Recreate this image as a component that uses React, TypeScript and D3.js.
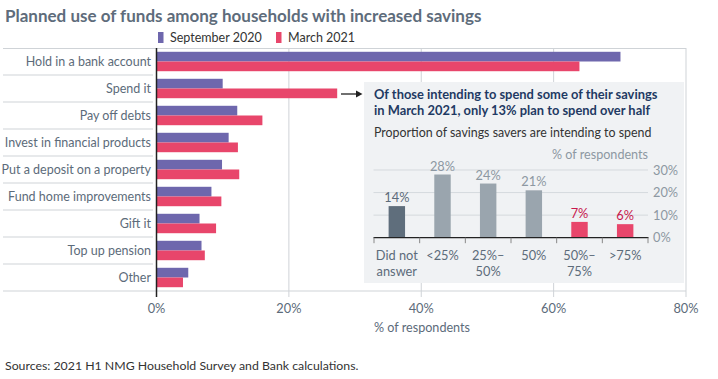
import React from "react";
import * as d3 from "d3";

const categories = [
  "Hold in a bank account",
  "Spend it",
  "Pay off debts",
  "Invest in financial products",
  "Put a deposit on a property",
  "Fund home improvements",
  "Gift it",
  "Top up pension",
  "Other",
];
const seriesNames = ["September 2020", "March 2021"];
const sep2020 = [70.1, 10.0, 12.2, 10.9, 9.9, 8.3, 6.5, 6.8, 4.8];
const mar2021 = [63.9, 27.3, 16.0, 12.3, 12.5, 9.8, 9.0, 7.3, 4.0];
const xTicks = [0, 20, 40, 60, 80];

const insetCats = [["Did not", "answer"], ["<25%"], ["25%–", "50%"], ["50%"], ["50%–", "75%"], [">75%"]];
const insetValues = [14, 28, 24, 21, 7, 6];
const insetTicks = [0, 10, 20, 30];

const PURPLE = "#6e67ad";
const RED = "#e8466b";
const FONT = "Lato, 'Noto Sans', sans-serif";
const TXT = "#5c6b7a";

export default function App() {
  const W = 718, H = 379;
  const x = d3.scaleLinear().domain([0, 80]).range([156.5, 686]);
  const y = d3.scaleBand<string>().domain(categories).range([48, 291]).padding(0);
  const inner = d3.scaleBand<string>().domain(seriesNames).range([0, y.bandwidth()]).paddingOuter(0.39).paddingInner(0);
  const series = [sep2020, mar2021];
  const colors = [PURPLE, RED];

  // inset
  const ix = d3.scaleBand<number>().domain(insetValues.map((_, i) => i)).range([374, 648]).paddingInner(0.64).paddingOuter(0.32);
  const iy = d3.scaleLinear().domain([0, 30]).range([237.7, 170]);
  const bandEdges = d3.range(insetValues.length + 1).map((i) => 374 + (i * (648 - 374)) / insetValues.length);
  const insetColor = (i: number) => (i === 0 ? "#5f6e7c" : insetValues[i] < 10 ? RED : "#9aa5ae");
  const insetLabelColor = (i: number) => (i === 0 ? "#5c6b7a" : insetValues[i] < 10 ? "#c8174d" : "#8d98a2");

  return (
    <svg width={W} height={H} style={{ display: "block", position: "absolute", left: 0, top: 0 }} fontFamily={FONT}>
      <rect width={W} height={H} fill="#fff" />
      <text x={5} y={21.5} fontSize={17} fontWeight={700} fill="#5e6c7b">
        Planned use of funds among households with increased savings
      </text>
      {/* legend */}
      {seriesNames.map((s, i) => {
        const lx = i === 0 ? 158 : 276;
        return (
          <g key={s}>
            <rect x={lx} y={32} width={5.5} height={11} fill={colors[i]} />
            <text x={lx + 12} y={41.5} fontSize={12.5} fill="#333">{s}</text>
          </g>
        );
      })}
      {/* grid */}
      {xTicks.slice(1).map((t) => (
        <line key={t} x1={x(t)} x2={x(t)} y1={48} y2={297} stroke="#cfd3d7" strokeWidth={1} />
      ))}
      <line x1={3} x2={686} y1={48.5} y2={48.5} stroke="#cfd3d7" />
      <line x1={3} x2={686} y1={291} y2={291} stroke="#cfd3d7" />
      {categories.slice(1).map((c) => (
        <line key={c} x1={3} x2={153} y1={y(c)!} y2={y(c)!} stroke="#cfd3d7" />
      ))}
      {/* bars */}
      {categories.map((c, ci) => (
        <g key={c}>
          {series.map((vals, si) => (
            <rect key={si} x={x(0)} y={y(c)! + inner(seriesNames[si])!} width={x(vals[ci]) - x(0)} height={inner.bandwidth()} fill={colors[si]} />
          ))}
          <text x={151} y={y(c)! + y.bandwidth() / 2 + 4.5} textAnchor="end" fontSize={12.5} fill={TXT}>{c}</text>
        </g>
      ))}
      <line x1={x(0)} x2={x(0)} y1={48} y2={297} stroke="#222" strokeWidth={1.5} />
      {xTicks.map((t) => (
        <text key={t} x={x(t)} y={312.5} textAnchor="middle" fontSize={12.8} fill={TXT}>{t}%</text>
      ))}
      <text x={374} y={332} fontSize={12.6} fill={TXT}>% of respondents</text>
      <text x={5} y={370} fontSize={12.3} fill="#333">Sources: 2021 H1 NMG Household Survey and Bank calculations.</text>

      {/* arrow */}
      <line x1={341} x2={357} y1={94} y2={94} stroke="#222" strokeWidth={1.3} />
      <path d="M356,90.5 L362.5,94 L356,97.5 Z" fill="#222" />

      {/* inset */}
      <rect x={364} y={82} width={320} height={201} fill="#f0f2f4" />
      <text x={374} y={98.5} fontSize={12.9} fontWeight={700} fill="#1f3a63">Of those intending to spend some of their savings</text>
      <text x={374} y={115} fontSize={12.9} fontWeight={700} fill="#1f3a63">in March 2021, only 13% plan to spend over half</text>
      <text x={374} y={136.5} fontSize={12.4} fill="#333">Proportion of savings savers are intending to spend</text>
      <text x={648} y={158.5} textAnchor="end" fontSize={12.6} fill="#8d98a2">% of respondents</text>
      {insetTicks.map((t) => (
        <g key={t}>
          {t > 0 && <line x1={373.5} x2={648} y1={iy(t)} y2={iy(t)} stroke="#d5d9dd" />}
          <text x={653} y={iy(t) + 4.5} fontSize={12.8} fill="#8d98a2">{t}%</text>
        </g>
      ))}
      {insetValues.map((v, i) => (
        <g key={i}>
          <rect x={ix(i)!} y={iy(v)} width={ix.bandwidth()} height={iy(0) - iy(v)} fill={insetColor(i)} />
          <text x={ix(i)! + ix.bandwidth() / 2} y={iy(v) - 4} textAnchor="middle" fontSize={12.8} fill={insetLabelColor(i)}>{v}%</text>
          {insetCats[i].map((ln, li) => (
            <text key={li} x={ix(i)! + ix.bandwidth() / 2} y={260 + li * 16} textAnchor="middle" fontSize={12.8} fill={TXT}>{ln}</text>
          ))}
        </g>
      ))}
      <line x1={373.5} x2={648.5} y1={iy(0)} y2={iy(0)} stroke="#222" strokeWidth={1.3} />
      {bandEdges.map((e, i) => (
        <line key={i} x1={e} x2={e} y1={iy(0)} y2={iy(0) + 5.5} stroke="#888" />
      ))}
    </svg>
  );
}
